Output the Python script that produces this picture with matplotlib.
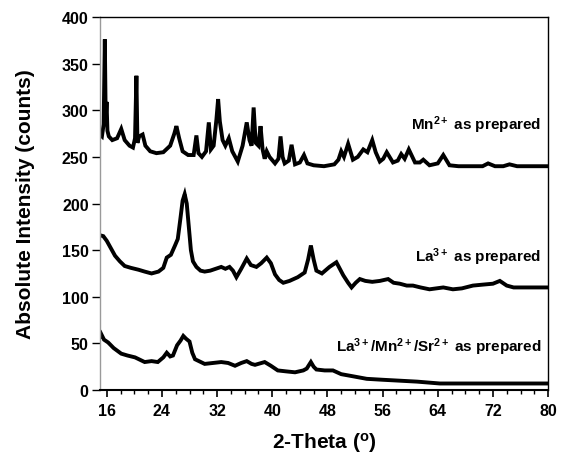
import numpy as np
import matplotlib
matplotlib.use("Agg")
import matplotlib.pyplot as plt
from matplotlib.ticker import MultipleLocator

plt.rcParams['font.family'] = ['Liberation Sans', 'DejaVu Sans']
plt.rcParams['font.weight'] = 'bold'
plt.rcParams['mathtext.fontset'] = 'custom'
plt.rcParams['mathtext.rm'] = 'Liberation Sans:bold'
plt.rcParams['mathtext.bf'] = 'Liberation Sans:bold'
plt.rcParams['mathtext.it'] = 'Liberation Sans:bold'

# (2-theta, counts)
mn_pts = [(15.0, 274), (15.3, 272), (15.55, 285), (15.72, 376), (15.85, 290), (15.97, 309),
          (16.1, 278), (16.3, 272), (16.8, 268), (17.5, 270), (18.1, 280), (18.6, 268),
          (19.3, 262), (19.8, 260), (20.1, 270), (20.3, 337), (20.45, 265), (20.7, 272),
          (21.2, 274), (21.6, 262), (22.3, 256), (23.2, 254), (24.2, 255), (25.2, 262),
          (25.8, 275), (26.1, 283), (26.5, 270), (27.0, 256), (27.8, 252), (28.6, 252),
          (29.0, 273), (29.3, 254), (29.8, 250), (30.4, 256), (30.8, 287), (31.1, 258),
          (31.5, 262), (31.9, 290), (32.15, 312), (32.4, 288), (32.8, 268), (33.2, 262),
          (33.7, 270), (34.2, 256), (35.0, 245), (35.7, 262), (36.3, 287), (36.7, 268),
          (37.0, 262), (37.3, 303), (37.6, 265), (38.0, 262), (38.3, 283), (38.6, 258),
          (38.9, 248), (39.2, 256), (39.6, 250), (40.4, 243), (40.9, 248), (41.2, 272),
          (41.5, 250), (41.8, 243), (42.4, 246), (42.8, 263), (43.3, 242), (44.0, 244),
          (44.6, 252), (45.1, 243), (46.0, 241), (47.5, 240), (49.0, 242), (49.6, 247),
          (50.0, 256), (50.4, 250), (51.0, 264), (51.7, 247), (52.4, 250), (53.2, 258),
          (53.8, 255), (54.5, 268), (55.0, 255), (55.6, 245), (56.1, 248), (56.6, 255),
          (57.5, 244), (58.2, 246), (58.7, 253), (59.2, 248), (59.8, 258), (60.7, 244),
          (61.4, 244), (61.9, 247), (62.8, 241), (64.0, 243), (64.8, 252), (65.7, 241),
          (67.0, 240), (69.0, 240), (70.5, 240), (71.3, 243), (72.3, 240), (73.5, 240),
          (74.4, 242), (75.5, 240), (77.5, 240), (80.0, 240)]

la_pts = [(15.0, 166), (15.5, 165), (16.0, 160), (16.6, 152), (17.2, 144), (17.9, 138),
          (18.6, 133), (19.5, 131), (20.6, 129), (21.5, 127), (22.5, 125), (23.5, 127),
          (24.2, 131), (24.7, 142), (25.3, 145), (25.9, 155), (26.3, 162), (26.7, 185),
          (27.0, 203), (27.3, 210), (27.6, 200), (27.9, 175), (28.2, 150), (28.5, 138),
          (29.0, 132), (29.6, 128), (30.2, 127), (31.0, 128), (31.8, 130), (32.6, 132),
          (33.2, 130), (33.8, 132), (34.3, 128), (34.8, 121), (35.5, 130), (36.3, 141),
          (36.9, 134), (37.7, 132), (38.4, 136), (39.2, 142), (39.8, 136), (40.4, 124),
          (41.0, 118), (41.6, 115), (42.5, 117), (43.7, 121), (44.7, 126), (45.2, 140),
          (45.6, 155), (46.0, 140), (46.4, 128), (47.2, 125), (48.3, 132), (49.3, 137),
          (50.3, 123), (51.0, 115), (51.5, 110), (52.1, 115), (52.7, 119), (53.5, 117),
          (54.5, 116), (55.6, 117), (56.8, 119), (57.6, 115), (58.5, 114), (59.5, 112),
          (60.4, 112), (61.5, 110), (62.8, 108), (63.8, 109), (64.8, 110), (66.2, 108),
          (67.5, 109), (69.1, 112), (70.5, 113), (72.0, 114), (73.0, 117), (74.0, 112),
          (75.0, 110), (76.8, 110), (78.5, 110), (80.0, 110)]

mix_pts = [(15.0, 57), (15.2, 60), (15.6, 54), (16.2, 51), (17.0, 45), (18.1, 39),
           (19.0, 37), (20.1, 35), (21.5, 30), (22.5, 31), (23.4, 30), (24.2, 35),
           (24.7, 40), (25.2, 36), (25.6, 37), (26.2, 48), (26.7, 53), (27.1, 58),
           (27.5, 55), (28.0, 52), (28.4, 40), (28.8, 33), (30.2, 28), (31.4, 29),
           (32.6, 30), (33.6, 29), (34.6, 26), (35.5, 29), (36.3, 31), (37.0, 28),
           (37.5, 27), (38.9, 30), (39.8, 26), (40.8, 21), (42.0, 20), (43.3, 19),
           (44.5, 21), (45.0, 23), (45.6, 30), (46.0, 25), (46.4, 22), (47.6, 21),
           (48.8, 21), (50.0, 17), (51.5, 15), (53.7, 12), (56.0, 11), (58.5, 10),
           (61.0, 9), (64.3, 7), (68.0, 7), (72.0, 7), (76.0, 7), (80.0, 7)]

labels = ['Mn$^{2+}$ as prepared', 'La$^{3+}$ as prepared',
          'La$^{3+}$/Mn$^{2+}$/Sr$^{2+}$ as prepared']
label_y = [285, 143, 47]

fig = plt.figure(figsize=(5.61, 4.56), dpi=100)
ax = fig.add_axes([0.178, 0.1425, 0.799, 0.818])

for pts in (mn_pts, la_pts, mix_pts):
    xs, ys = np.array(pts).T
    ax.plot(xs, ys, color='black', lw=2.8, solid_joinstyle='miter')

for txt, yy in zip(labels, label_y):
    ax.text(79.0, yy, txt, ha='right', va='center', fontsize=11, fontweight='bold')

ax.set_xlim(15, 80)
ax.set_ylim(0, 400)
ax.set_xticks(np.arange(16, 81, 8))
ax.xaxis.set_minor_locator(MultipleLocator(2))
ax.yaxis.set_major_locator(MultipleLocator(50))

ax.tick_params(axis='x', which='major', length=5, width=1.2, labelsize=11.5, pad=4)
ax.tick_params(axis='x', which='minor', length=3, width=1.0)
ax.tick_params(axis='y', which='major', length=6, width=1.0, labelsize=11.5, pad=2)
for lab in ax.get_xticklabels() + ax.get_yticklabels():
    lab.set_fontweight('bold')

ax.spines['left'].set_color('#9a9a9a')
ax.spines['left'].set_linewidth(1.0)
ax.spines['bottom'].set_linewidth(1.5)
ax.spines['top'].set_linewidth(1.0)
ax.spines['right'].set_linewidth(1.0)

ax.set_xlabel('2-Theta ($^{\\mathrm{o}}$)', fontsize=15, fontweight='bold', labelpad=9)
ax.set_ylabel('Absolute Intensity (counts)', fontsize=15, fontweight='bold', labelpad=19)

fig.savefig('out.png', dpi=100)
